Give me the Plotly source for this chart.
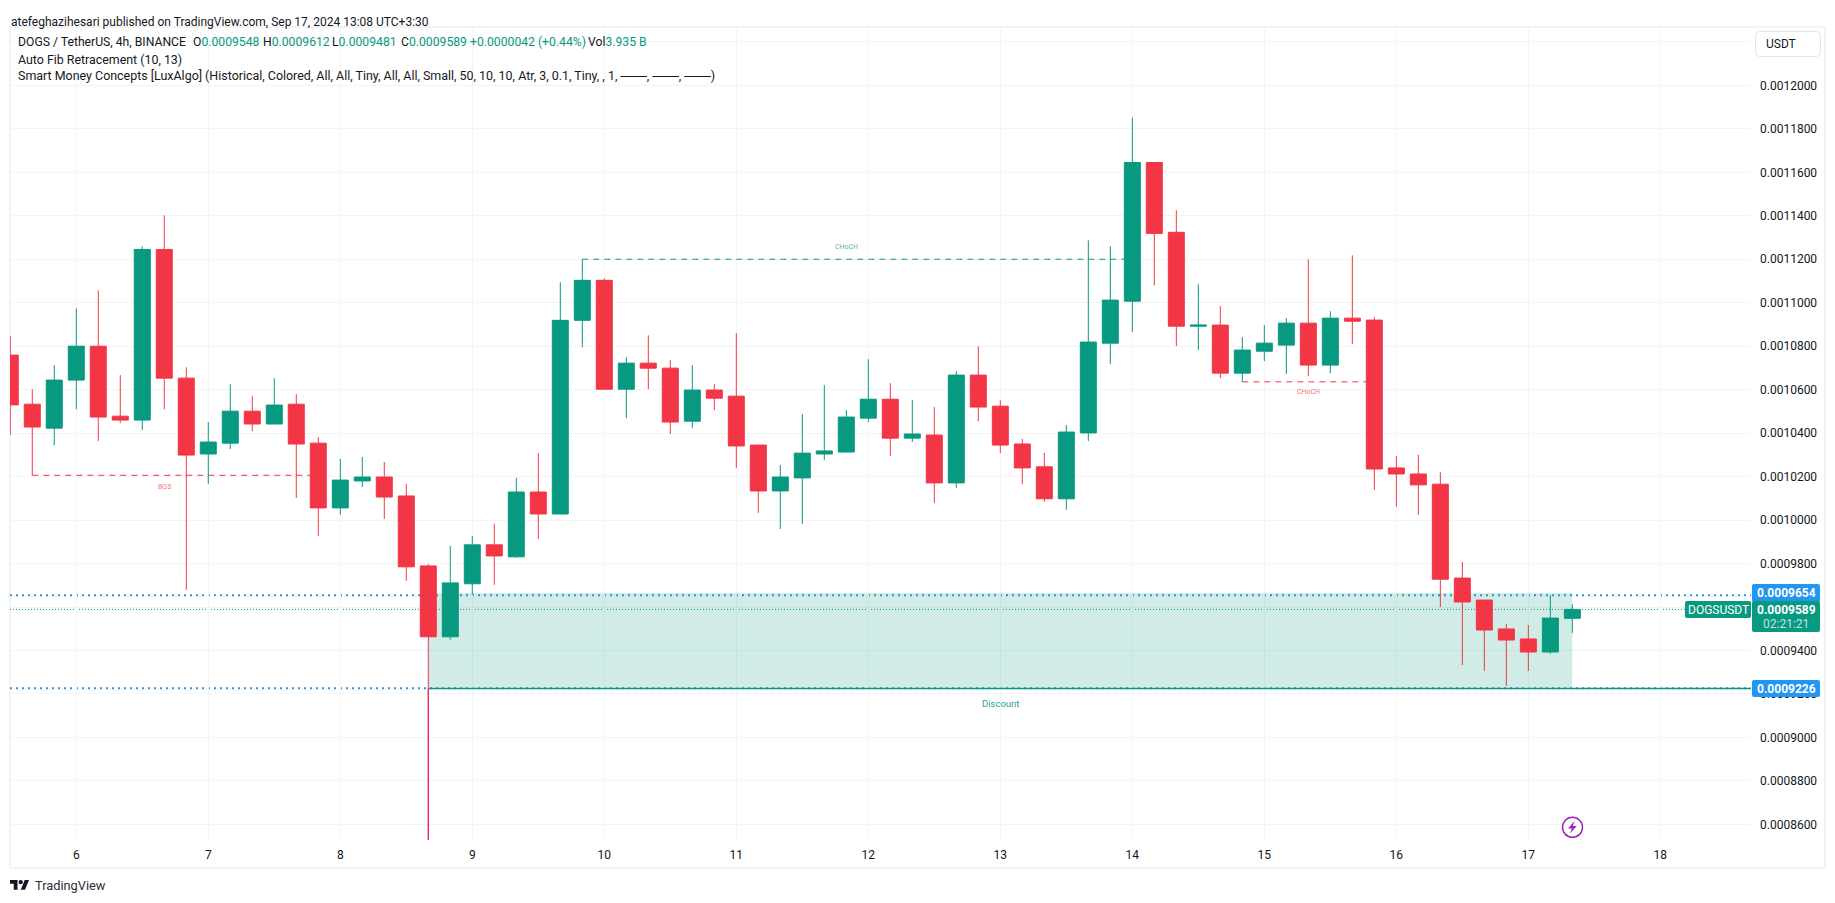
import pandas as pd
import plotly.graph_objects as go

W, H = 1835, 903
UNIT = 1e-7
GREEN = "#089981"
RED = "#F23645"
BLUE = "#2196F3"
INK = "#131722"
FONT = "Roboto"

# candle values, in units of 0.0000001 USDT
OPEN = [10759, 10533, 10423, 10644, 10800, 10478, 10460, 11245, 10653, 10304, 10354, 10501,
        10442, 10533, 10354, 10056, 10180, 10198, 10111, 9789, 9463, 9707, 9886, 9831,
        10129, 10028, 10919, 11103, 10602, 10722, 10699, 10455, 10598, 10570, 10345, 10134,
        10194, 10304, 10313, 10469, 10556, 10377, 10391, 10171, 10667, 10524, 10350, 10245,
        10098, 10401, 10814, 11007, 11645, 11324, 10892, 10897, 10676, 10777, 10805, 10906,
        10713, 10929, 10920, 10240, 10212, 10165, 9733, 9632, 9499, 9453, 9393, 9548]
HIGH = [10846, 10602, 10713, 10974, 11057, 10667, 11259, 11402, 10703, 10451, 10625, 10570,
        10653, 10579, 10382, 10281, 10290, 10267, 10166, 9799, 9881, 9927, 9982, 10194,
        10308, 11094, 11200, 11112, 10749, 10850, 10736, 10713, 10625, 10860, 10345, 10253,
        10488, 10621, 10506, 10740, 10630, 10552, 10520, 10685, 10800, 10552, 10373, 10309,
        10437, 11287, 11260, 11852, 11645, 11425, 11085, 10984, 10842, 10897, 10929, 11200,
        10961, 11218, 10933, 10295, 10300, 10220, 9807, 9632, 9522, 9517, 9655, 9612]
LOW = [10391, 10206, 10345, 10510, 10364, 10446, 10414, 10510, 9679, 10166, 10327, 10409,
       10442, 10102, 9927, 10024, 10152, 10005, 9720, 8520, 9450, 9656, 9702, 9826,
       9913, 10028, 10795, 10602, 10469, 10602, 10396, 10423, 10506, 10240, 10033, 9959,
       9982, 10276, 10313, 10451, 10295, 10359, 10079, 10148, 10455, 10308, 10166, 10084,
       10047, 10364, 10718, 10865, 11080, 10800, 10782, 10653, 10636, 10731, 10672, 10662,
       10676, 10809, 10139, 10061, 10024, 9600, 9333, 9306, 9237, 9306, 9384, 9481]
CLOSE = [10530, 10428, 10644, 10800, 10474, 10460, 11245, 10653, 10299, 10359, 10501, 10442,
         10529, 10350, 10056, 10184, 10198, 10106, 9785, 9463, 9711, 9886, 9835, 10129,
         10028, 10919, 11103, 10602, 10722, 10699, 10451, 10598, 10561, 10341, 10134, 10198,
         10308, 10318, 10474, 10556, 10377, 10396, 10171, 10667, 10520, 10345, 10240, 10098,
         10405, 10819, 11012, 11645, 11319, 10892, 10897, 10676, 10782, 10814, 10906, 10713,
         10929, 10915, 10235, 10212, 10162, 9728, 9623, 9494, 9448, 9393, 9549, 9589]
CANDLE_START = "2024-09-05 12:00"

DAY_TICKS = ["2024-09-%02d" % d for d in range(6, 19)]
DAY_LABELS = [str(d) for d in range(6, 19)]
PRICE_TICKS = [8600, 8800, 9000, 9200, 9400, 9600, 9800, 10000, 10200, 10400, 10600,
               10800, 11000, 11200, 11400, 11600, 11800, 12000, 12200]
PRICE_LABELS = ["0.0008600", "0.0008800", "0.0009000", "0.0009200", "0.0009400", "0.0009600",
                "0.0009800", "0.0010000", "0.0010200", "0.0010400", "0.0010600", "0.0010800",
                "0.0011000", "0.0011200", "0.0011400", "0.0011600", "0.0011800", "0.0012000", ""]

FIB_TOP = 9654
FIB_BOTTOM = 9226
LAST_PRICE = 9589
ZONE_TOP = 9664
ZONE_BOTTOM = 9228
ZONE_START, ZONE_END = "2024-09-08 16:00", "2024-09-17 08:00"
BOS_LEVEL, BOS_START, BOS_END = 10206, "2024-09-05 16:00", "2024-09-07 20:00"
CHOCH_UP_LEVEL, CHOCH_UP_START, CHOCH_UP_END = 11200, "2024-09-09 20:00", "2024-09-14 00:00"
CHOCH_DN_LEVEL, CHOCH_DN_START, CHOCH_DN_END = 10636, "2024-09-14 20:00", "2024-09-15 20:00"


def fx(px):
    return px / W


def fy(py):
    return 1 - py / H


def rr(x0, y0, x1, y1, r):
    pts = [("M", x0 + r, y0), ("L", x1 - r, y0), ("Q", x1, y0, x1, y0 + r), ("L", x1, y1 - r),
           ("Q", x1, y1, x1 - r, y1), ("L", x0 + r, y1), ("Q", x0, y1, x0, y1 - r),
           ("L", x0, y0 + r), ("Q", x0, y0, x0 + r, y0)]
    out = ""
    for p in pts:
        c = p[0]
        nums = p[1:]
        coords = []
        for i in range(0, len(nums), 2):
            coords.append("%.6f,%.6f" % (fx(nums[i]), fy(nums[i + 1])))
        out += c + " ".join(coords) + " "
    return out + "Z"


def poly(points):
    s = "M" + " L".join("%.6f,%.6f" % (fx(a), fy(b)) for a, b in points)
    return s + " Z"


times = pd.date_range(CANDLE_START, periods=len(OPEN), freq="4h")
scale = lambda seq: [v * UNIT for v in seq]

fig = go.Figure(go.Candlestick(
    x=times, open=scale(OPEN), high=scale(HIGH), low=scale(LOW), close=scale(CLOSE),
    increasing=dict(line=dict(color=GREEN, width=1), fillcolor=GREEN),
    decreasing=dict(line=dict(color=RED, width=1), fillcolor=RED),
    hoverinfo="skip", showlegend=False,
))

shapes = []
# outer frame
shapes.append(dict(type="rect", xref="paper", yref="paper", x0=fx(10), x1=fx(1825), y0=fy(868), y1=fy(27),
                   line=dict(color="#F0F3FA", width=2), layer="below"))
# discount zone
shapes.append(dict(type="rect", xref="x", yref="y", x0=ZONE_START, x1=ZONE_END,
                   y0=ZONE_BOTTOM * UNIT, y1=ZONE_TOP * UNIT, line=dict(width=0),
                   fillcolor="rgba(8,153,129,0.19)", layer="between"))


def level(y, color, width, dash, x0=None, x1=None, layer="between"):
    d = dict(type="line", yref="y", y0=y * UNIT, y1=y * UNIT, line=dict(color=color, width=width, dash=dash), layer=layer)
    if x0 is None:
        d.update(xref="paper", x0=fx(10), x1=fx(1751))
    else:
        d.update(xref="x", x0=x0, x1=x1)
    return d


shapes.append(level(FIB_BOTTOM - 1, GREEN, 1.5, "solid", ZONE_START, "2024-09-18 16:29"))
shapes.append(level(FIB_TOP, BLUE, 2, "2px,4px"))
shapes.append(level(FIB_BOTTOM, BLUE, 2, "2px,4px"))
shapes.append(level(LAST_PRICE, GREEN, 1, "1px,2px"))
shapes.append(level(BOS_LEVEL, RED, 1, "6px,5px", BOS_START, BOS_END))
shapes.append(level(CHOCH_UP_LEVEL, GREEN, 1, "6px,5px", CHOCH_UP_START, CHOCH_UP_END))
shapes.append(level(CHOCH_DN_LEVEL, RED, 1, "6px,5px", CHOCH_DN_START, CHOCH_DN_END))
# lower part of the long wick
shapes.append(dict(type="line", xref="x", yref="y", x0=ZONE_START, x1=ZONE_START, y0=8520 * UNIT, y1=FIB_BOTTOM * UNIT,
                   line=dict(color="#EC1A5E", width=1), layer="above"))

# price axis labels
shapes.append(dict(type="path", xref="paper", yref="paper", path=rr(1752, 584, 1820, 602, 2), fillcolor=BLUE, line=dict(width=0)))
shapes.append(dict(type="path", xref="paper", yref="paper", path=rr(1752, 601, 1820, 632, 2), fillcolor=GREEN, line=dict(width=0)))
shapes.append(dict(type="path", xref="paper", yref="paper", path=rr(1685, 601, 1751, 618, 2), fillcolor=GREEN, line=dict(width=0)))
shapes.append(dict(type="path", xref="paper", yref="paper", path=rr(1752, 680, 1820, 697, 2), fillcolor=BLUE, line=dict(width=0)))
# USDT button
shapes.append(dict(type="path", xref="paper", yref="paper", path=rr(1755.5, 31.5, 1820.5, 56.5, 5), fillcolor="white",
                   line=dict(color="#E0E3EB", width=1)))
# lightning badge
shapes.append(dict(type="circle", xref="paper", yref="paper", x0=fx(1562.5), x1=fx(1582.5), y0=fy(837.3), y1=fy(817.3),
                   line=dict(color="#9C27B0", width=1.5), fillcolor="rgba(255,255,255,0)"))
shapes.append(dict(type="path", xref="paper", yref="paper", fillcolor="#9C27B0", line=dict(width=0),
                   path=poly([(1574.5, 821), (1568, 828.5), (1571.8, 828.5), (1570, 833.5), (1576.8, 826), (1572.8, 826)])))
# TradingView logo
LX, LY, LS = 10, 877.9, 0.536
shapes.append(dict(type="path", xref="paper", yref="paper", fillcolor=INK, line=dict(width=0),
                   path=poly([(LX + a * LS, LY + b * LS) for a, b in [(14, 22), (7, 22), (7, 11), (0, 11), (0, 4), (14, 4)]])))
shapes.append(dict(type="path", xref="paper", yref="paper", fillcolor=INK, line=dict(width=0),
                   path=poly([(LX + a * LS, LY + b * LS) for a, b in [(28, 22), (20, 22), (27.5, 4), (35.5, 4)]])))
shapes.append(dict(type="circle", xref="paper", yref="paper", fillcolor=INK, line=dict(width=0),
                   x0=fx(LX + 16 * LS), x1=fx(LX + 24 * LS), y0=fy(LY + 12 * LS), y1=fy(LY + 4 * LS)))

ann = []


def label(px, py, text, color=INK, size=13, anchor="left", weight=None):
    ann.append(dict(xref="paper", yref="paper", x=fx(px), y=fy(py), text=text, showarrow=False,
                    xanchor=anchor, yanchor="middle", borderpad=0,
                    font=dict(family=FONT, size=size, color=color, weight=weight)))


LEG = 12.2
label(10, 22, "atefeghazihesari published on TradingView.com, Sep 17, 2024 13:08 UTC+3:30", size=12)
label(17, 42, "DOGS / TetherUS, 4h, BINANCE", size=LEG)
for px, head, val in [(192.4, "O", "0.0009548"), (261.8, "H", "0.0009612"), (331, "L", "0.0009481"), (400, "C", "0.0009589")]:
    label(px, 42, head + '<span style="color:%s">%s</span>' % (GREEN, val), size=LEG)
label(468.7, 42, "+0.0000042 (+0.44%)", color=GREEN, size=LEG)
label(586.5, 42, 'Vol<span style="color:%s">3.935 B</span>' % GREEN, size=LEG)
label(17, 59, "Auto Fib Retracement (10, 13)", size=12.4)
label(17, 76, "Smart Money Concepts [LuxAlgo] (Historical, Colored, All, All, Tiny, All, All, Small, 50, 10, 10, Atr, 3, 0.1, Tiny, , 1, ───, ───, ───)", size=12.45)
label(34, 885.5, "TradingView", color="#2A2E39", size=12.8)
label(1765, 44, "USDT", size=12)
label(1786, 592.7, "0.0009654", color="white", size=12, anchor="center", weight="bold")
label(1786, 609.5, "0.0009589", color="white", size=12, anchor="center", weight="bold")
label(1786, 623.5, "02:21:21", color="rgba(255,255,255,0.75)", size=12, anchor="center")
label(1718, 609.5, "DOGSUSDT", color="white", size=12, anchor="center")
label(1786, 688.5, "0.0009226", color="white", size=12, anchor="center", weight="bold")
label(164.5, 486.7, "BOS", color="rgba(242,54,69,0.75)", size=7, anchor="center")
label(846.4, 246.7, "CHoCH", color="rgba(8,153,129,0.75)", size=7, anchor="center")
label(1308.3, 392.3, "CHoCH", color="rgba(242,54,69,0.75)", size=7, anchor="center")
label(1000, 703.5, "Discount", color="rgba(8,153,129,0.95)", size=9.5, anchor="center")

fig.update_layout(
    width=W, height=H, margin=dict(l=0, r=0, t=0, b=0), autosize=False,
    paper_bgcolor="white", plot_bgcolor="white", showlegend=False, hovermode=False, dragmode=False,
    boxmode="group", boxgap=0.273, boxgroupgap=0,
    font=dict(family=FONT, size=12, color=INK),
    shapes=shapes, annotations=ann,
    xaxis=dict(domain=[fx(10), fx(1751)], range=["2024-09-05 11:57:00", "2024-09-18 16:29:00"],
               tickmode="array", tickvals=DAY_TICKS, ticktext=DAY_LABELS, showgrid=True, gridcolor="#F3F4F6", gridwidth=1,
               rangeslider=dict(visible=False), zeroline=False, showline=False, ticks="",
               ticklabelstandoff=6, tickfont=dict(family=FONT, size=12, color=INK), fixedrange=True),
    yaxis=dict(domain=[fy(840), fy(28)], range=[8528 * UNIT, 12264 * UNIT], side="right", anchor="x",
               tickmode="array", tickvals=[v * UNIT for v in PRICE_TICKS], ticktext=PRICE_LABELS,
               showgrid=True, gridcolor="#F3F4F6", gridwidth=1, zeroline=False, showline=False, ticks="",
               ticklabelstandoff=8, tickfont=dict(family=FONT, size=12, color=INK), fixedrange=True),
)

fig.write_html("out.html", config={"displayModeBar": False, "responsive": False},
               post_script="document.body.style.margin='0';document.body.style.overflow='hidden';")
